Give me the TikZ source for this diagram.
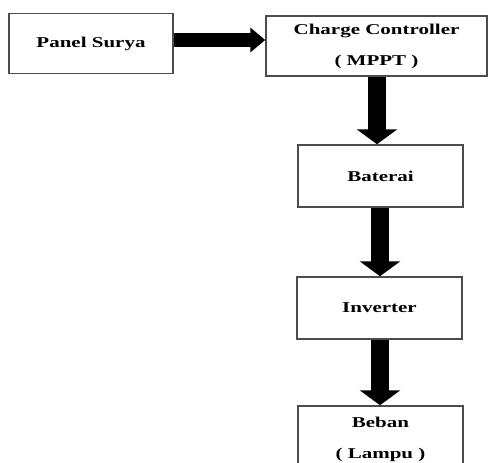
\documentclass[tikz,border=0pt]{standalone}
\usepackage{fontspec}
\setmainfont{Liberation Serif}[FakeStretch=1.4]
\usetikzlibrary{arrows.meta}
\begin{document}
\begin{tikzpicture}[x=1pt,y=1pt,
  blk/.style={draw=black!70, line width=1.5pt, fill=white, inner sep=0pt, align=center,
    font=\fontsize{15}{31}\selectfont\bfseries},
  bigarrow/.style={line width=18pt, -{Triangle[width=40pt,length=15pt]}},
  harrow/.style={line width=14pt, -{Triangle[width=24pt,length=15pt]}}]
\useasboundingbox (0,0) rectangle (488,-463);
\clip (0,0) rectangle (488,-463);
\node[blk, minimum width=164pt, minimum height=60pt] (ps) at (91,-43.5) {Panel Surya};
\node[blk, minimum width=221pt, minimum height=60pt] (cc) at (376.5,-46) {Charge Controller\\( MPPT )};
\node[blk, minimum width=165pt, minimum height=62pt] (bt) at (380.5,-176) {Baterai};
\node[blk, minimum width=165pt, minimum height=62pt] (iv) at (379.5,-308) {Inverter};
\node[blk, minimum width=165pt, minimum height=66pt] (bb) at (380.5,-439) {Beban\\( Lampu )};
\draw[harrow] (ps.east |- 0,-40) -- (cc.west |- 0,-40);
\draw[bigarrow] (cc.south -| 377,0) -- (bt.north -| 377,0);
\draw[bigarrow] (bt.south -| 380,0) -- (iv.north -| 380,0);
\draw[bigarrow] (iv.south -| 380,0) -- (bb.north -| 380,0);
\end{tikzpicture}
\end{document}
